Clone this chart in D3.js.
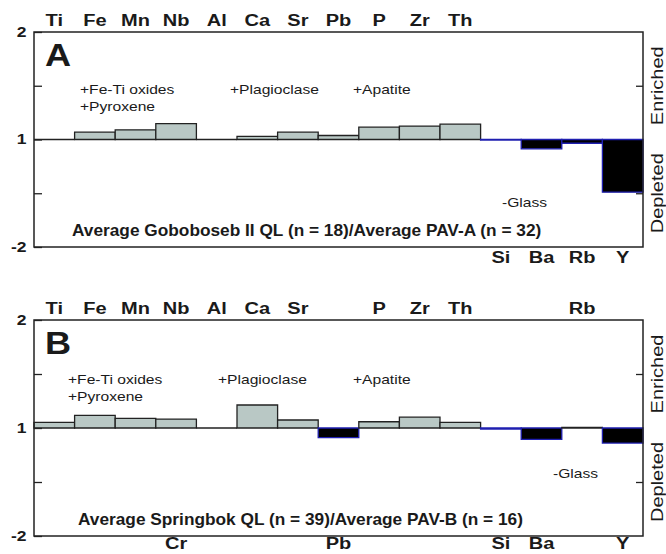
<!DOCTYPE html>
<html>
<head>
<meta charset="utf-8">
<script src="https://cdn.jsdelivr.net/npm/d3@7"></script>
<style>
  body { margin: 0; background: #fff; }
  svg text { font-family: "Liberation Sans", Arial, Helvetica, sans-serif; fill: #1a1a1a; }
</style>
</head>
<body>
<div class="chart-container"></div>
<script>
// element order along the x axis (same for both panels)
const elements = ['Ti', 'Fe', 'Mn', 'Nb', 'Al', 'Ca', 'Sr', 'Pb', 'P', 'Zr', 'Th', 'Si', 'Ba', 'Rb', 'Y'];

// log2 of the concentration ratio
const ratioA = [0, 0.068, 0.09, 0.147, 0, 0.03, 0.068, 0.037, 0.115, 0.125, 0.143, -0.005, -0.087, -0.035, -0.49];
const ratioB = [0.053, 0.117, 0.09, 0.083, 0, 0.213, 0.074, -0.09, 0.058, 0.1, 0.053, -0.01, -0.105, 0.005, -0.14];

// labels above / below each column
const topLabelsA = ['Ti', 'Fe', 'Mn', 'Nb', 'Al', 'Ca', 'Sr', 'Pb', 'P', 'Zr', 'Th', '', '', '', ''];
const bottomLabelsA = ['', '', '', '', '', '', '', '', '', '', '', 'Si', 'Ba', 'Rb', 'Y'];
const topLabelsB = ['Ti', 'Fe', 'Mn', 'Nb', 'Al', 'Ca', 'Sr', '', 'P', 'Zr', 'Th', '', '', 'Rb', ''];
const bottomLabelsB = ['', '', '', 'Cr', '', '', '', 'Pb', '', '', '', 'Si', 'Ba', '', 'Y'];

// y ticks (log2 units) and their labels
const yTickValues = [-1, -0.5, 0, 0.5, 1];
const yTickLabels = ['-2', '', '1', '', '2'];

const notesA = ['+Fe-Ti oxides', '+Pyroxene', '+Plagioclase', '+Apatite', '-Glass'];
const notesB = ['+Fe-Ti oxides', '+Pyroxene', '+Plagioclase', '+Apatite', '-Glass'];
const titleA = 'Average Goboboseb II QL (n = 18)/Average PAV-A (n = 32)';
const titleB = 'Average Springbok QL (n = 39)/Average PAV-B (n = 16)';

const W = 666, H = 554;
const left = 34, right = 643;
const sx = 1.25; // the lettering in the figure is drawn a bit wide

const svg = d3.select('.chart-container')
    .append('svg')
    .attr('width', W)
    .attr('height', H);

const x = d3.scaleBand()
    .domain(elements)
    .range([left, right])
    .padding(0);

// text placed at (px, py) and stretched horizontally
function wideText(g, px, py, str, size, bold, stretch) {
    return g.append('text')
        .attr('transform', `translate(${px},${py}) scale(${stretch || sx},1)`)
        .style('font-size', size + 'px')
        .style('font-weight', bold ? 'bold' : 'normal')
        .text(str);
}

function drawPanel(cfg) {
    const y = d3.scaleLinear()
        .domain([-1, 1])
        .range([cfg.bottom, cfg.top]);
    const g = svg.append('g');

    // bars as outlined paths so that zero-height bars still show as a line
    g.append('g')
        .selectAll('path')
        .data(elements.map((e, i) => ({ e, v: cfg.values[i] })))
        .enter()
        .append('path')
        .attr('d', d => {
            const x0 = x(d.e), x1 = x0 + x.bandwidth();
            return `M${x0},${y(0)}V${y(d.v)}H${x1}V${y(0)}Z`;
        })
        .attr('fill', d => d.v < 0 ? '#000' : '#b9c8c5')
        .attr('stroke', d => d.v < 0 ? '#1f1fb0' : '#222')
        .attr('stroke-width', 1.3);

    // frame
    g.append('rect')
        .attr('x', left)
        .attr('y', cfg.top)
        .attr('width', right - left)
        .attr('height', cfg.bottom - cfg.top)
        .attr('fill', 'none')
        .attr('stroke', '#222')
        .attr('stroke-width', 1.5);

    // left axis
    const yl = g.append('g')
        .attr('transform', `translate(${left},0)`)
        .call(d3.axisLeft(y)
            .tickValues(yTickValues)
            .tickFormat((d, i) => yTickLabels[i])
            .tickSizeInner(-8)
            .tickSizeOuter(0)
            .tickPadding(6));
    yl.select('.domain').remove();
    yl.selectAll('line').attr('stroke', '#222').attr('stroke-width', 1.3);
    yl.selectAll('text')
        .attr('transform', `scale(${sx},1)`)
        .style('font-size', '14px')
        .style('font-weight', 'bold');

    // right axis (minor ticks only)
    const yr = g.append('g')
        .attr('transform', `translate(${right},0)`)
        .call(d3.axisRight(y)
            .tickValues([-0.5, 0.5])
            .tickFormat('')
            .tickSizeInner(-7)
            .tickSizeOuter(0));
    yr.select('.domain').remove();
    yr.selectAll('line').attr('stroke', '#222').attr('stroke-width', 1.3);

    // element labels on top
    const xt = g.append('g')
        .attr('transform', `translate(0,${cfg.top - 6})`)
        .call(d3.axisTop(x)
            .tickFormat((d, i) => cfg.topLabels[i])
            .tickSize(0)
            .tickPadding(0));
    xt.select('.domain').remove();
    xt.selectAll('text')
        .attr('transform', `scale(${sx},1)`)
        .style('font-size', '16px')
        .style('font-weight', 'bold');

    // element labels below
    const xb = g.append('g')
        .attr('transform', `translate(0,${cfg.bottom + cfg.bottomGap})`)
        .call(d3.axisBottom(x)
            .tickFormat((d, i) => cfg.bottomLabels[i])
            .tickSize(0)
            .tickPadding(0));
    xb.select('.domain').remove();
    xb.selectAll('text')
        .attr('transform', `scale(${sx},1)`)
        .style('font-size', '16px')
        .style('font-weight', 'bold');

    // panel letter
    wideText(g, 45, cfg.top + 34, cfg.letter, 32, true, 1.13);

    // mineral notes
    cfg.notes.forEach((t, i) => {
        wideText(g, cfg.notePos[i][0], cfg.notePos[i][1], t, 12.5, false);
    });

    // title
    wideText(g, cfg.titleX, cfg.bottom - 11, cfg.title, 16, true, 1.08);

    // enriched / depleted
    [['Enriched', 0.5], ['Depleted', -0.5]].forEach(([t, v]) => {
        g.append('text')
            .attr('transform', `translate(${right + 20},${y(v)}) rotate(-90) scale(${sx},1)`)
            .attr('text-anchor', 'middle')
            .style('font-size', '16px')
            .text(t);
    });
}

drawPanel({
    top: 32, bottom: 247, letter: 'A', bottomGap: 5,
    values: ratioA, topLabels: topLabelsA, bottomLabels: bottomLabelsA,
    notes: notesA,
    notePos: [[80, 94], [80, 111], [230, 94], [353, 94], [502, 207]],
    title: titleA, titleX: 72
});

drawPanel({
    top: 320, bottom: 536, letter: 'B', bottomGap: 2,
    values: ratioB, topLabels: topLabelsB, bottomLabels: bottomLabelsB,
    notes: notesB,
    notePos: [[68, 384], [68, 401], [218, 384], [353, 384], [553, 478]],
    title: titleB, titleX: 78
});
</script>
</body>
</html>
